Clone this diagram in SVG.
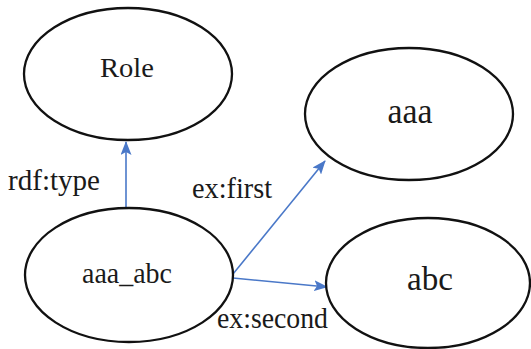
<svg xmlns="http://www.w3.org/2000/svg" width="531" height="349" viewBox="0 0 531 349">
  <style>
    .node ellipse { fill: #ffffff; stroke: #111111; stroke-width: 2.3; }
    .node text { font-family: "Liberation Serif", "Times New Roman", serif; fill: #1a1a1a; text-anchor: middle; }
    .edge line { stroke: #4a78c8; stroke-width: 1.6; }
    .label { font-family: "Liberation Serif", "Times New Roman", serif; font-size: 30px; fill: #1a1a1a; }
  </style>
  <defs>
    <marker id="arrow" viewBox="0 0 14 11" refX="13" refY="5.5" markerWidth="14" markerHeight="11" markerUnits="userSpaceOnUse" orient="auto">
      <path d="M0,0 L14,5.5 L0,11 L3,5.5 Z" fill="#4a78c8"/>
    </marker>
  </defs>
  <rect width="531" height="349" fill="#ffffff"/>

  <g id="edges" class="edge">
    <line x1="126" y1="208" x2="126" y2="142" marker-end="url(#arrow)"/>
    <line x1="233" y1="274" x2="325" y2="161" marker-end="url(#arrow)"/>
    <line x1="233" y1="278" x2="327" y2="287" marker-end="url(#arrow)"/>
  </g>

  <g id="node-role" class="node">
    <ellipse cx="128" cy="74" rx="104" ry="66"/>
    <text x="127" y="77" font-size="28" textLength="54" lengthAdjust="spacingAndGlyphs">Role</text>
  </g>
  <g id="node-aaa" class="node">
    <ellipse cx="409" cy="114" rx="104" ry="66"/>
    <text x="410" y="123" font-size="36" textLength="45" lengthAdjust="spacingAndGlyphs">aaa</text>
  </g>
  <g id="node-aaa_abc" class="node">
    <ellipse cx="129" cy="275" rx="104" ry="67"/>
    <text x="127" y="283" font-size="30" textLength="90" lengthAdjust="spacingAndGlyphs">aaa_abc</text>
  </g>
  <g id="node-abc" class="node">
    <ellipse cx="428" cy="283" rx="102" ry="65"/>
    <text x="430" y="290" font-size="34" textLength="46" lengthAdjust="spacingAndGlyphs">abc</text>
  </g>

  <g id="edge-labels">
    <text class="label" x="8" y="190" textLength="92" lengthAdjust="spacingAndGlyphs">rdf:type</text>
    <text class="label" x="192" y="198" textLength="80" lengthAdjust="spacingAndGlyphs">ex:first</text>
    <text class="label" x="217" y="328" textLength="111" lengthAdjust="spacingAndGlyphs">ex:second</text>
  </g>
</svg>
